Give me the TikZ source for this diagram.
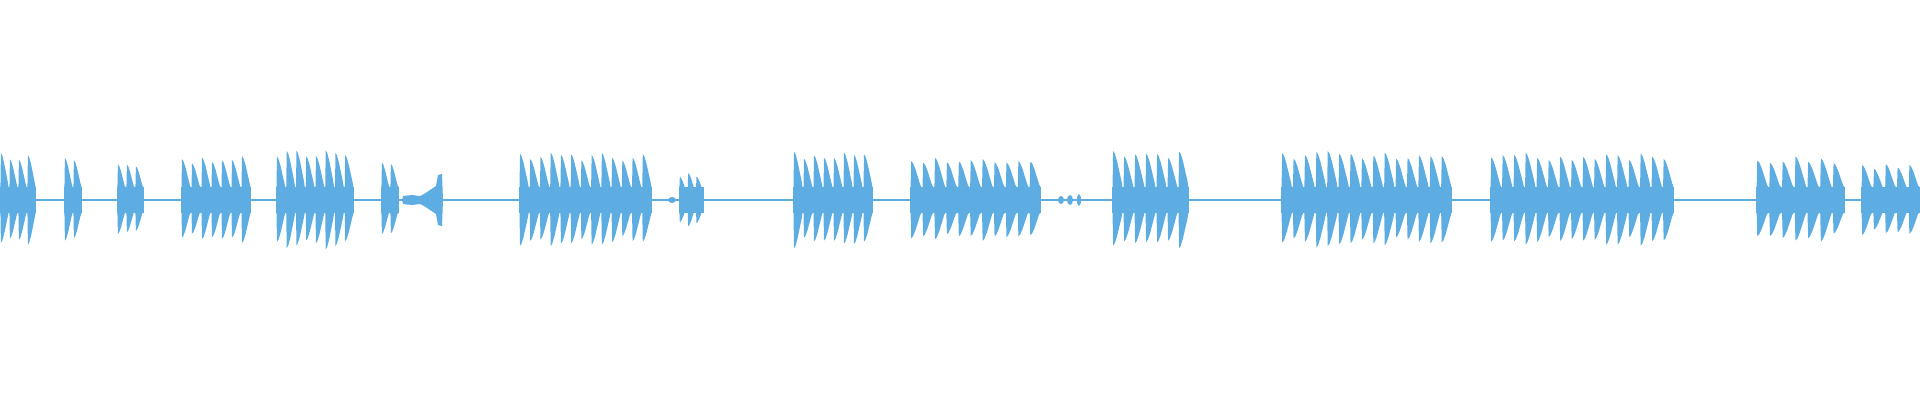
\documentclass[tikz,border=0pt]{standalone}
\definecolor{wv}{RGB}{93,173,226}
\tikzset{wave/.style={fill=wv,draw=none}}
\newcommand\wburst[4]{%
 \pgfmathsetmacro\pw{(#2-#1)/#3}%
 \fill[wave] (#1,-13) rectangle (#2,13);
 \foreach \i in {1,...,#3}{%
  \pgfmathsetmacro\xa{#1+(\i-1)*\pw}%
  \pgfmathsetmacro\aa{#4*(0.82+0.18*rnd)}%
  \pgfmathsetmacro\ab{\aa*(0.9+0.1*rnd)}%
  \fill[wave] (\xa+0.05*\pw,13) -- (\xa+0.1*\pw,\aa) -- (\xa+0.25*\pw,0.95*\aa) -- (\xa+0.45*\pw,0.8*\aa) -- (\xa+0.65*\pw,0.6*\aa) -- (\xa+0.85*\pw,0.4*\aa) -- (\xa+0.95*\pw,13)
   -- (\xa+0.95*\pw,-13) -- (\xa+0.85*\pw,-0.4*\ab) -- (\xa+0.65*\pw,-0.6*\ab) -- (\xa+0.45*\pw,-0.8*\ab) -- (\xa+0.25*\pw,-0.95*\ab) -- (\xa+0.1*\pw,-\ab) -- (\xa+0.05*\pw,-13) -- cycle;
 }}
\begin{document}
\begin{tikzpicture}[x=1pt,y=1pt]
\useasboundingbox (0,0) rectangle (1920,400);
\pgfmathsetseed{7}
\begin{scope}[yshift=200pt]
\fill[wave] (0,-0.7) rectangle (1920,0.7);
\wburst{0}{36}{4}{48}
\wburst{64}{82}{2}{45}
\wburst{117}{144}{3}{40}
\wburst{181}{251}{7}{44}
\wburst{276}{354}{8}{50}
\wburst{381}{399}{2}{40}
\wburst{519}{652}{13}{48}
\wburst{679}{704}{3}{28}
\wburst{793}{873}{8}{50}
\wburst{910}{1041}{11}{45}
\wburst{1112}{1189}{7}{50}
\wburst{1281}{1452}{15}{50}
\wburst{1490}{1674}{16}{48}
\wburst{1756}{1845}{7}{45}
\wburst{1861}{1920}{5}{36}
\fill[wave] (402,0) -- (403,4) -- (412,5) -- (420,4) -- (424,6) -- (430,10) -- (436,14) -- (438,25) -- (442,26) -- (443,0)
 -- (442,-26) -- (438,-25) -- (436,-14) -- (430,-10) -- (424,-6) -- (420,-4) -- (412,-5) -- (403,-4) -- cycle;
\fill[wave] (672,0) ellipse (4 and 3);
\fill[wave] (1061,0) ellipse (3 and 4);
\fill[wave] (1070,0) ellipse (3 and 5);
\fill[wave] (1079,0) ellipse (2 and 6);
\end{scope}
\end{tikzpicture}
\end{document}
